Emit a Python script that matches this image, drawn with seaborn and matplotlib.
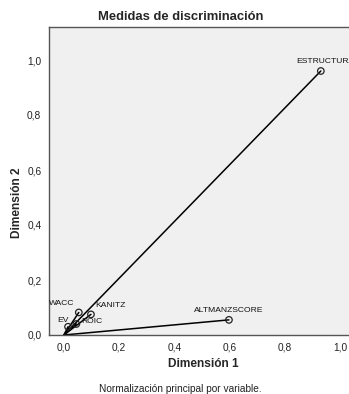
import matplotlib
matplotlib.use("Agg")
import matplotlib.pyplot as plt
import seaborn as sns
import pandas as pd

variables = ["ESTRUCTURA", "ALTMANZSCORE", "WACC", "KANITZ", "EV", "ROIC"]
dim1 = [0.931, 0.598, 0.054, 0.098, 0.015, 0.045]
dim2 = [0.960, 0.055, 0.082, 0.075, 0.030, 0.040]
label_offsets = [(3, 4), (0, 4), (-12, 4), (14, 4), (-4, 2), (11, -1)]

x_ticks = [0.0, 0.2, 0.4, 0.6, 0.8, 1.0]
y_ticks = [0.0, 0.2, 0.4, 0.6, 0.8, 1.0]

df = pd.DataFrame({"variable": variables, "dim1": dim1, "dim2": dim2})

sns.set_style("white")
plt.rcParams["font.family"] = ["Liberation Sans", "DejaVu Sans"]

W, H = 349, 394
fig = plt.figure(figsize=(W / 100, H / 100), dpi=100)
ax = fig.add_axes([49 / W, (H - 335) / H, (357 - 49) / W, (335 - 27) / H])
ax.set_facecolor("#F0F0F0")

for _, r in df.iterrows():
    ax.plot([0, r["dim1"]], [0, r["dim2"]], color="black", lw=1.1, zorder=2)

sns.scatterplot(data=df, x="dim1", y="dim2", ax=ax, marker="o", s=22,
                facecolor="none", edgecolor="#222222", linewidth=0.9, zorder=3)

for (_, r), off in zip(df.iterrows(), label_offsets):
    ax.annotate(r["variable"], (r["dim1"], r["dim2"]), xytext=off,
                textcoords="offset points", ha="center", va="bottom",
                fontsize=6.1, color="#111111", zorder=4)

ax.set_xlim(-0.054, 1.062)
ax.set_ylim(0.0, 1.12)
ax.set_xticks(x_ticks)
ax.set_yticks(y_ticks)
ax.set_xticklabels([f"{v:.1f}".replace(".", ",") for v in x_ticks])
ax.set_yticklabels([f"{v:.1f}".replace(".", ",") for v in y_ticks])
ax.tick_params(axis="both", direction="out", length=4, width=1, color="#444444",
               labelsize=7.3, labelcolor="#222222", pad=1.5)
for s in ax.spines.values():
    s.set_color("#555555")
    s.set_linewidth(1.0)
ax.set_xlabel("")
ax.set_ylabel("")

fig.text(181 / W, 1 - 17 / H, "Medidas de discriminación", ha="center", va="center",
         fontsize=9.4, fontweight="bold")
fig.text(203 / W, 1 - 364 / H, "Dimensión 1", ha="center", va="center",
         fontsize=8.6, fontweight="bold")
fig.text(17 / W, 1 - 203 / H, "Dimensión 2", ha="center", va="center",
         fontsize=8.6, fontweight="bold", rotation=90)
fig.text(180 / W, 1 - 389 / H, "Normalización principal por variable.", ha="center",
         va="center", fontsize=7.3, color="#222222")

fig.savefig("out.png", dpi=100)
